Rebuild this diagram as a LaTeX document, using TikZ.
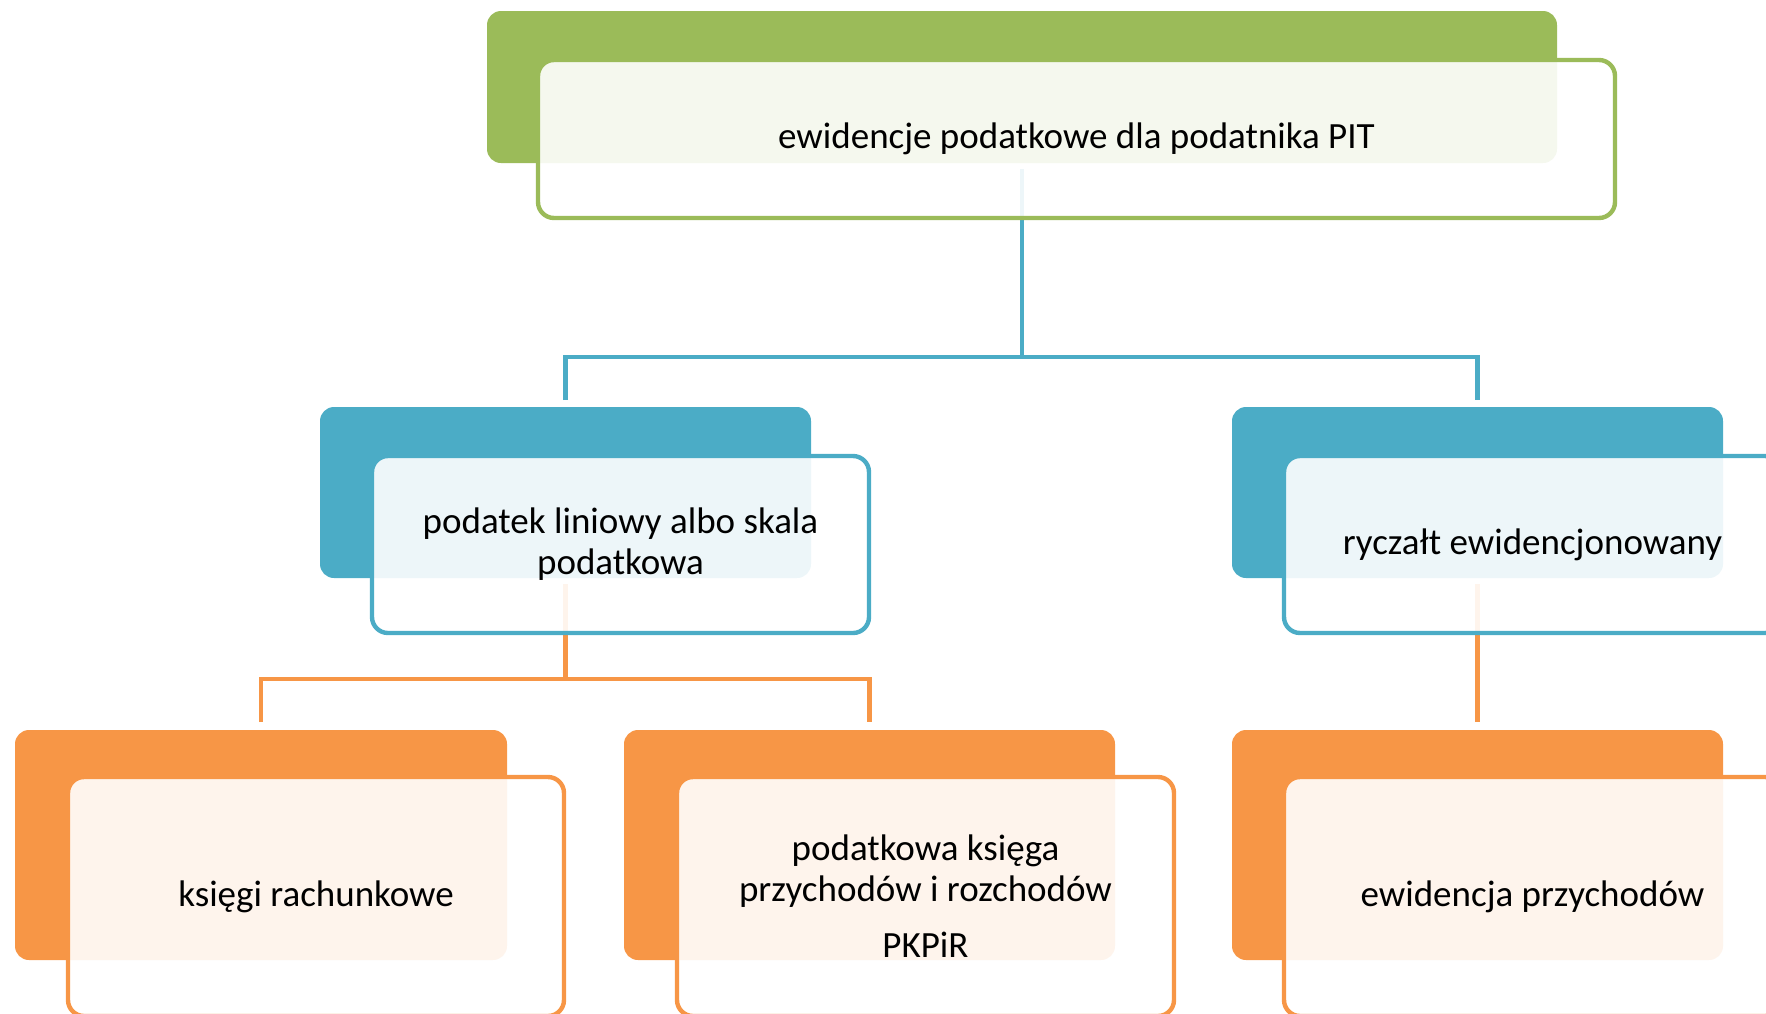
\documentclass[tikz,border=0pt]{standalone}
\usepackage{fontspec}
\setmainfont{Carlito}
\definecolor{cgreen}{HTML}{9BBB59}
\definecolor{cblue}{HTML}{4BACC6}
\definecolor{corange}{HTML}{F79646}
\tikzset{
 solidbox/.style={rectangle, rounded corners=7pt, inner sep=0pt, outer sep=0pt, anchor=north west, draw=none, fill=#1},
 framebox/.style={rectangle, rounded corners=8pt, inner sep=0pt, outer sep=0pt, anchor=north west, draw=#1, line width=2.2pt, fill=white, fill opacity=0.9, text opacity=1, align=center, font=\fontsize{18.5}{20.5}\selectfont},
 conn/.style={draw=#1, line width=2.2pt}
}
\begin{document}
\begin{tikzpicture}[x=0.5pt,y=-0.5pt]
\useasboundingbox (0,0) rectangle (1766,1013);
\clip (0,0) rectangle (1766,1013);
% solid back boxes
\node[solidbox=cgreen, minimum width=535pt, minimum height=76pt] (g1) at (487,11) {};
\node[solidbox=cblue, minimum width=245.5pt, minimum height=85.5pt] (b1) at (320,407) {};
\node[solidbox=cblue, minimum width=245.5pt, minimum height=85.5pt] (b2) at (1232,407) {};
\node[solidbox=corange, minimum width=246pt, minimum height=115pt] (o1) at (15,730) {};
\node[solidbox=corange, minimum width=245.5pt, minimum height=115pt] (o2) at (624,730) {};
\node[solidbox=corange, minimum width=245.5pt, minimum height=115pt] (o3) at (1232,730) {};
% connectors
\draw[conn=cblue, shorten <=3pt] (g1.south) -- (g1.south |- 0,357);
\draw[conn=cblue, shorten <=3.5pt, shorten >=3.5pt] (b1.north) -- (b1.north |- 0,357) -- (b2.north |- 0,357) -- (b2.north);
\draw[conn=corange, shorten <=3pt] (b1.south) -- (b1.south |- 0,679);
\draw[conn=corange, shorten <=4pt, shorten >=4pt] (o1.north) -- (o1.north |- 0,679) -- (o2.north |- 0,679) -- (o2.north);
\draw[conn=corange, shorten <=3pt, shorten >=4pt] (b2.south) -- (o3.north);
% framed front boxes with text
\node[framebox=cgreen, minimum width=538.5pt, minimum height=79pt] (g1o) at (538,60) {ewidencje podatkowe dla podatnika PIT};
\node[framebox=cblue, minimum width=248.5pt, minimum height=88.5pt] (b1o) at (372,456) {podatek liniowy albo skala\\podatkowa};
\node[framebox=cblue, minimum width=248.5pt, minimum height=88.5pt] (b2o) at (1284,456) {ryczałt ewidencjonowany};
\node[framebox=corange, minimum width=248pt, minimum height=119.5pt] (o1o) at (68,777) {księgi rachunkowe};
\node[framebox=corange, minimum width=248.5pt, minimum height=119.5pt] (o2o) at (677,777) {podatkowa księga\\przychodów i rozchodów\\[7.5pt]PKPiR};
\node[framebox=corange, minimum width=248.5pt, minimum height=119.5pt] (o3o) at (1284,777) {ewidencja przychodów};
\end{tikzpicture}
\end{document}
